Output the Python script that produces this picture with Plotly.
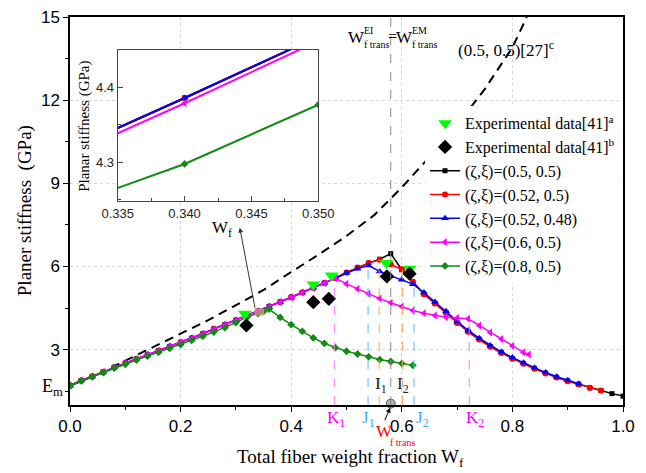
import plotly.graph_objects as go

# ---------------- data ----------------
x_base = [0.00, 0.02, 0.04, 0.06, 0.08, 0.10, 0.12, 0.14, 0.16, 0.18,
          0.20, 0.22, 0.24, 0.26, 0.28, 0.30, 0.32, 0.34]
y_base = [1.70, 1.88, 2.03, 2.19, 2.36, 2.51, 2.66, 2.81, 2.96, 3.11,
          3.26, 3.41, 3.57, 3.74, 3.90, 4.06, 4.226, 4.386]

x_rise = [0.36, 0.38, 0.40, 0.42, 0.44, 0.46, 0.48]
y_rise = [4.55, 4.72, 4.89, 5.06, 5.23, 5.40, 5.58]

x_desc = [0.64, 0.66, 0.68, 0.70, 0.72, 0.74, 0.76, 0.78, 0.80, 0.82,
          0.84, 0.86, 0.88, 0.90, 0.92, 0.94, 0.96, 0.98, 1.00]

# (0.5, 0.5)
x_black = x_base + x_rise + [0.50, 0.52, 0.54, 0.56, 0.58, 0.60, 0.62] + x_desc
y_black = y_base + y_rise + [5.78, 5.96, 6.12, 6.26, 6.46, 5.88, 5.44] + \
    [5.01, 4.67, 4.33, 3.97, 3.65, 3.37, 3.11, 2.89, 2.68, 2.50,
     2.32, 2.15, 2.00, 1.87, 1.75, 1.62, 1.52, 1.41, 1.32]
# (0.52, 0.5)
x_red = x_base + x_rise + [0.50, 0.52, 0.54, 0.56, 0.58, 0.60, 0.62] + x_desc[:-2]
y_red = y_base + y_rise + [5.78, 5.96, 6.12, 6.24, 6.08, 5.90, 5.45] + \
    [5.00, 4.66, 4.32, 3.96, 3.64, 3.36, 3.10, 2.88, 2.67, 2.49,
     2.31, 2.14, 1.99, 1.86, 1.74, 1.62, 1.52]
# (0.52, 0.48)
x_blue = x_base + x_rise + [0.50, 0.52, 0.54, 0.56, 0.58, 0.60, 0.62] + x_desc[:-4]
y_blue = y_base + y_rise + [5.76, 5.92, 6.03, 5.82, 5.66, 5.52, 5.36] + \
    [5.06, 4.72, 4.38, 4.01, 3.69, 3.41, 3.15, 2.92, 2.71, 2.52,
     2.34, 2.17, 2.02, 1.89, 1.77]
# (0.6, 0.5)
x_mag = x_base + x_rise + [0.50, 0.52, 0.54, 0.56, 0.58, 0.60, 0.62, 0.64, 0.66,
                           0.68, 0.70, 0.72, 0.74, 0.76, 0.78, 0.80, 0.82, 0.83]
y_mag = [1.70, 1.88, 2.03, 2.19, 2.36, 2.51, 2.66, 2.81, 2.96, 3.11,
         3.26, 3.41, 3.57, 3.735, 3.895, 4.055, 4.219, 4.379] + \
    [4.545, 4.715, 4.885, 5.055, 5.225, 5.395, 5.57] + \
    [5.37, 5.19, 5.01, 4.84, 4.69, 4.55, 4.41, 4.31, 4.23,
     4.17, 4.14, 4.11, 3.87, 3.62, 3.38, 3.13, 2.90, 2.82]
# (0.8, 0.5)
x_green = x_base + [0.35, 0.36, 0.38, 0.40, 0.42, 0.44, 0.46, 0.48, 0.50,
                    0.52, 0.54, 0.56, 0.58, 0.60, 0.62]
y_green = [1.70, 1.87, 2.02, 2.17, 2.33, 2.47, 2.62, 2.76, 2.90, 3.04,
           3.18, 3.33, 3.48, 3.63, 3.79, 3.97, 4.17, 4.298] + \
    [4.377, 4.46, 4.16, 3.90, 3.66, 3.42, 3.22, 3.07, 2.94,
     2.84, 2.74, 2.64, 2.57, 2.50, 2.43]

# (0.5, 0.5)[27]c dashed model curve
x_ref = [0.00, 0.05, 0.10, 0.15, 0.20, 0.25, 0.30, 0.35, 0.40, 0.45,
         0.50, 0.55, 0.60, 0.65, 0.70, 0.75, 0.80, 0.826]
y_ref = [1.70, 2.10, 2.60, 3.08, 3.55, 4.06, 4.60, 5.15, 5.80, 6.43,
         7.10, 7.85, 8.85, 9.95, 11.10, 12.40, 13.90, 15.0]

# experimental data
x_exp_a = [0.316, 0.440, 0.473, 0.572, 0.614]
y_exp_a = [4.29, 5.35, 5.67, 6.12, 5.92]
x_exp_b = [0.319, 0.440, 0.468, 0.573, 0.614]
y_exp_b = [3.87, 4.71, 4.83, 5.64, 5.74]

# marker lines
k_x, k_top = [0.478, 0.722], [5.57, 4.11]
j_x, j_top = [0.539, 0.622], [6.03, 5.36]
i_x, i_top = [0.559, 0.601], [6.24, 5.90]
w_trans = 0.580

x_ticks = [0.0, 0.2, 0.4, 0.6, 0.8, 1.0]
y_ticks = [3, 6, 9, 12, 15]
inset_x_range = [0.335, 0.350]
inset_y_range = [4.248, 4.45]

SERIF = "Liberation Serif"
SANS = "Liberation Sans"

series = [
    ("(ζ,ξ)=(0.5, 0.5)", x_black, y_black, "#000000", "square", 5),
    ("(ζ,ξ)=(0.52, 0.5)", x_red, y_red, "#ff0000", "circle", 6),
    ("(ζ,ξ)=(0.52, 0.48)", x_blue, y_blue, "#0000ff", "triangle-up", 7),
    ("(ζ,ξ)=(0.6, 0.5)", x_mag, y_mag, "#ff00ff", "triangle-left", 7),
    ("(ζ,ξ)=(0.8, 0.5)", x_green, y_green, "#138a13", "diamond", 6),
]

fig = go.Figure()

fig.add_trace(go.Scatter(x=x_ref, y=y_ref, mode="lines", showlegend=False,
                         line=dict(color="black", width=2, dash="9px,6px")))

for rank, (name, xs, ys, col, sym, sz) in enumerate(series):
    fig.add_trace(go.Scatter(x=xs, y=ys, mode="lines+markers", name=name,
                             legendrank=10 + rank,
                             line=dict(color=col, width=1.5),
                             marker=dict(color=col, symbol=sym, size=sz)))

fig.add_trace(go.Scatter(x=x_exp_a, y=y_exp_a, mode="markers",
                         name="Experimental data[41]<sup>a</sup>", legendrank=1,
                         marker=dict(color="#00ff00", symbol="triangle-down", size=12)))
fig.add_trace(go.Scatter(x=x_exp_b, y=y_exp_b, mode="markers",
                         name="Experimental data[41]<sup>b</sup>", legendrank=2,
                         marker=dict(color="black", symbol="diamond", size=11)))

# transition point on axis
fig.add_trace(go.Scatter(x=[w_trans], y=[1.05], mode="markers", showlegend=False,
                         cliponaxis=False,
                         marker=dict(color="#b0b0b0", size=9,
                                     line=dict(color="#555555", width=1))))

# inset traces
for name, xs, ys, col, sym, sz in series:
    fig.add_trace(go.Scatter(x=xs, y=ys, mode="lines+markers", showlegend=False,
                             xaxis="x2", yaxis="y2",
                             line=dict(color=col, width=2),
                             marker=dict(color=col, symbol=sym, size=sz)))

shapes = []
for xv, top in zip(k_x, k_top):
    shapes.append(dict(type="line", xref="x", yref="y", x0=xv, x1=xv, y0=1, y1=top,
                       line=dict(color="#ff77ff", width=1, dash="dash")))
for xv, top in zip(j_x, j_top):
    shapes.append(dict(type="line", xref="x", yref="y", x0=xv, x1=xv, y0=1, y1=top,
                       line=dict(color="#55bbff", width=1, dash="dash")))
for xv, top in zip(i_x, i_top):
    shapes.append(dict(type="line", xref="x", yref="y", x0=xv, x1=xv, y0=1, y1=top,
                       line=dict(color="#ffaa55", width=1, dash="dash")))
shapes.append(dict(type="line", xref="x", yref="y", x0=w_trans, x1=w_trans, y0=1, y1=15,
                   line=dict(color="#888888", width=1, dash="dash")))
shapes.append(dict(type="rect", xref="x", yref="y",
                   x0=inset_x_range[0], x1=inset_x_range[1],
                   y0=inset_y_range[0], y1=inset_y_range[1],
                   line=dict(color="#f08070", width=1), fillcolor="rgba(240,150,170,0.6)",
                   layer="above"))

ann = []
def txt(x, y, t, size=17, color="black", xref="x", yref="y", xanchor="left",
        yanchor="middle", family=SERIF, angle=0):
    ann.append(dict(x=x, y=y, xref=xref, yref=yref, text=t, showarrow=False,
                    xanchor=xanchor, yanchor=yanchor, borderpad=0, textangle=angle,
                    font=dict(family=family, size=size, color=color)))

# top label W^EI_f trans = W^EM_f trans
txt(0.500, 14.26, "W", 17)
txt(0.530, 14.52, "EI", 10)
txt(0.530, 14.00, "f trans", 10)
txt(0.574, 14.30, "=", 16)
txt(0.587, 14.26, "W", 17)
txt(0.617, 14.52, "EM", 10)
txt(0.617, 14.00, "f trans", 10)
txt(0.700, 13.85, "(0.5, 0.5)[27]<sup>c</sup>", 17)

# K, J labels under axis
txt(0.4637, -0.035, "K<sub>1</sub>", 17, "#ff00ff", yref="paper")
txt(0.527, -0.035, "J<sub>1</sub>", 17, "#33aaff", yref="paper")
txt(0.6235, -0.035, "J<sub>2</sub>", 17, "#33aaff", yref="paper")
txt(0.714, -0.035, "K<sub>2</sub>", 17, "#ff00ff", yref="paper")
txt(0.549, 1.72, "I<sub>1</sub>", 17, "#222222")
txt(0.589, 1.72, "I<sub>2</sub>", 17, "#222222")
# W_f trans (red)
txt(0.551, -0.068, "W", 17, "#ff0000", yref="paper")
txt(0.5765, -0.097, "f trans", 10, "#ff0000", yref="paper")
# E_m label
txt(-0.010, 1.62, "E<sub>m</sub>", 18, xref="paper", xanchor="right")

# arrows
ann.append(dict(x=0.579, y=-0.007, xref="x", yref="paper", ax=-6, ay=14, text="",
                showarrow=True, arrowhead=2, arrowsize=1, arrowwidth=1, arrowcolor="black"))
ann.append(dict(x=0.307, y=7.40, xref="x", yref="y", ax=0.335, ay=4.45,
                axref="x", ayref="y", text="", showarrow=True, arrowhead=2,
                arrowsize=1, arrowwidth=1, arrowcolor="#333333"))

# axis titles
txt(0.508, -0.137, "Total fiber weight fraction W<sub>f</sub>", 19, xref="paper",
    yref="paper", xanchor="center")
txt(-0.081, 0.50, "Planer stiffness  (GPa)", 19, xref="paper", yref="paper",
    xanchor="center", angle=-90)
# inset titles
txt(0.275, 0.454, "W<sub>f</sub>", 17, xref="paper", yref="paper", xanchor="center")
txt(0.025, 0.719, "Planar stiffness (GPa)", 15, xref="paper", yref="paper",
    xanchor="center", angle=-90)

fig.update_layout(
    width=646, height=473,
    margin=dict(l=70, r=23, t=17, b=67.5, autoexpand=False),
    paper_bgcolor="white", plot_bgcolor="white",
    showlegend=True,
    legend=dict(x=0.642, y=0.77, xanchor="left", yanchor="top",
                bgcolor="white", borderwidth=0,
                font=dict(family=SERIF, size=16, color="black"),
                tracegroupgap=0, itemwidth=30),
    xaxis=dict(range=[0, 1], tickvals=x_ticks, tickformat=".1f", automargin=False,
               showline=True, linecolor="black", linewidth=1.5, mirror=True,
               ticks="outside", ticklen=5, tickwidth=1.2, tickcolor="black",
               minor=dict(dtick=0.1, ticks="outside", ticklen=3, tickcolor="black"),
               showgrid=True, gridcolor="#d8d8d8", griddash="dot", gridwidth=1,
               zeroline=False,
               tickfont=dict(family=SANS, size=17, color="black")),
    yaxis=dict(range=[1, 15], tickvals=y_ticks, automargin=False,
               showline=True, linecolor="black", linewidth=1.5, mirror=True,
               ticks="outside", ticklen=5, tickwidth=1.2, tickcolor="black",
               minor=dict(dtick=1.5, tick0=0, ticks="outside", ticklen=3,
                          tickcolor="black"),
               showgrid=True, gridcolor="#d8d8d8", griddash="dot", gridwidth=1,
               zeroline=False,
               tickfont=dict(family=SANS, size=17, color="black")),
    xaxis2=dict(domain=[0.0863, 0.449], anchor="y2", range=inset_x_range,
                tickvals=[0.335, 0.340, 0.345, 0.350], tickformat=".3f",
                automargin=False,
                showline=True, linecolor="#444444", linewidth=1.2, mirror=True,
                ticks="inside", ticklen=5, tickcolor="#444444",
                minor=dict(dtick=0.0025, ticks="inside", ticklen=3, tickcolor="#444444"),
                showgrid=False, zeroline=False,
                tickfont=dict(family=SANS, size=13, color="#222222")),
    yaxis2=dict(domain=[0.5246, 0.915], anchor="x2", range=inset_y_range,
                tickvals=[4.3, 4.4], tickformat=".1f", automargin=False,
                showline=True, linecolor="#444444", linewidth=1.2, mirror=True,
                ticks="inside", ticklen=5, tickcolor="#444444",
                minor=dict(dtick=0.05, ticks="inside", ticklen=3, tickcolor="#444444"),
                showgrid=False, zeroline=False,
                tickfont=dict(family=SANS, size=13, color="#222222")),
    shapes=shapes,
    annotations=ann,
)

fig.write_html("out.html",
               config={"displayModeBar": False},
               post_script="document.body.style.margin='0';"
                           "document.body.style.overflow='hidden';")
